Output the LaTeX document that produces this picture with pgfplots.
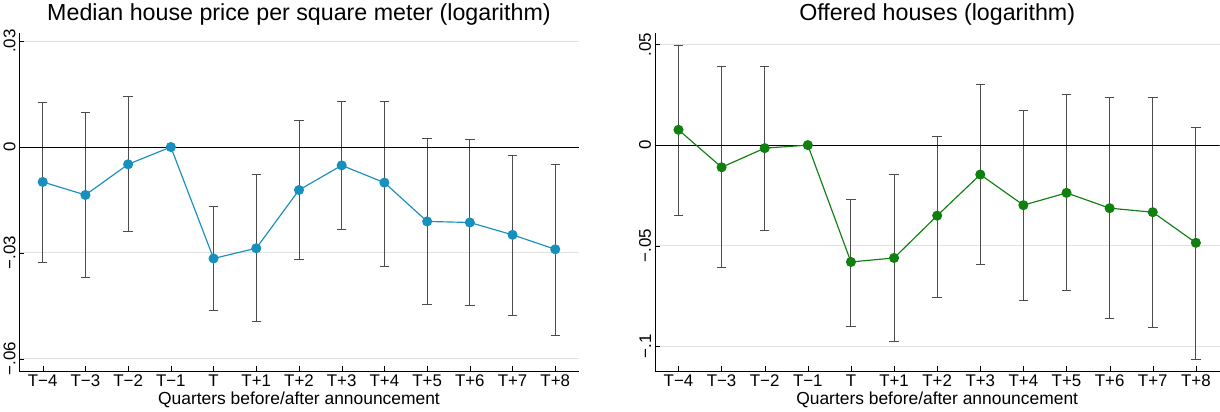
\documentclass[border=0pt]{standalone}
\usepackage{pgfplots}
\pgfplotsset{compat=1.18}
\usepackage{fontspec}
\setmainfont{Liberation Sans}
\definecolor{cblue}{RGB}{24,144,190}
\definecolor{cgreen}{RGB}{16,128,16}
\definecolor{gridc}{RGB}{225,225,225}
\begin{document}
\begin{tikzpicture}
\pgfplotsset{
  every axis/.append style={
    scale only axis, height=320pt,
    axis x line*=bottom, axis y line*=left,
    xtick={0,...,12}, xmin=-0.55, xmax=12.55,
    xticklabels={T−4,T−3,T−2,T−1,T,T+1,T+2,T+3,T+4,T+5,T+6,T+7,T+8},
    ymajorgrids, xmajorgrids=false, grid style={draw=gridc, line width=0.8pt},
    scaled y ticks=false,
    tick label style={font=\fontsize{16}{18}\selectfont},
    yticklabel style={rotate=90, anchor=south},
    xlabel={Quarters before/after announcement},
    label style={font=\fontsize{16.5}{19}\selectfont},
    xlabel style={yshift=2pt},
    title style={font=\fontsize{22}{25}\selectfont, yshift=-2pt},
    tick style={black}, major tick length=5pt,
    axis line style={black},
  },
  eb/.style={draw=none, mark=none, forget plot, error bars/.cd, y dir=both, y explicit,
    error bar style={black!70, line width=0.9pt}, error mark options={rotate=90, mark size=4.5pt, black!70, line width=0.9pt}},
}
\begin{axis}[width=530pt, ymin=-0.0635, ymax=0.0323,
  ytick={-0.06,-0.03,0,0.03}, yticklabels={−.06,−.03,0,.03},
  title={Median house price per square meter (logarithm)}]
\addplot[eb] coordinates {
(0,-0.0099) +=(0,0.0224) -=(0,0.0229)
(1,-0.0136) +=(0,0.0235) -=(0,0.0235)
(2,-0.0049) +=(0,0.0191) -=(0,0.0191)
(4,-0.0316) +=(0,0.0148) -=(0,0.0148)
(5,-0.0287) +=(0,0.0209) -=(0,0.0209)
(6,-0.0122) +=(0,0.0197) -=(0,0.0197)
(7,-0.0052) +=(0,0.0180) -=(0,0.0183)
(8,-0.0101) +=(0,0.0231) -=(0,0.0238)
(9,-0.0211) +=(0,0.0234) -=(0,0.0235)
(10,-0.0214) +=(0,0.0234) -=(0,0.0235)
(11,-0.0249) +=(0,0.0226) -=(0,0.0229)
(12,-0.0290) +=(0,0.0241) -=(0,0.0243)
};
\addplot[black, line width=0.9pt, forget plot] coordinates {(-0.55,0) (12.55,0)};
\addplot[cblue, line width=1.1pt, mark=*, mark size=4.2pt] coordinates {
(0,-0.0099)(1,-0.0136)(2,-0.0049)(3,0)(4,-0.0316)(5,-0.0287)(6,-0.0122)(7,-0.0052)(8,-0.0101)(9,-0.0211)(10,-0.0214)(11,-0.0249)(12,-0.0290)};
\end{axis}
\begin{axis}[at={(602pt,0)}, width=535pt, ymin=-0.1121, ymax=0.0556,
  ytick={-0.1,-0.05,0,0.05}, yticklabels={−.1,−.05,0,.05},
  title={Offered houses (logarithm)}]
\addplot[eb] coordinates {
(0,0.0076) +=(0,0.0419) -=(0,0.0424)
(1,-0.0110) +=(0,0.0499) -=(0,0.0496)
(2,-0.0015) +=(0,0.0404) -=(0,0.0409)
(4,-0.0580) +=(0,0.0312) -=(0,0.0319)
(5,-0.0560) +=(0,0.0414) -=(0,0.0415)
(6,-0.0350) +=(0,0.0395) -=(0,0.0408)
(7,-0.0146) +=(0,0.0449) -=(0,0.0445)
(8,-0.0298) +=(0,0.0470) -=(0,0.0475)
(9,-0.0237) +=(0,0.0490) -=(0,0.0485)
(10,-0.0313) +=(0,0.0550) -=(0,0.0546)
(11,-0.0333) +=(0,0.0570) -=(0,0.0571)
(12,-0.0485) +=(0,0.0571) -=(0,0.0581)
};
\addplot[black, line width=0.9pt, forget plot] coordinates {(-0.55,0) (12.55,0)};
\addplot[cgreen, line width=1.1pt, mark=*, mark size=4.2pt] coordinates {
(0,0.0076)(1,-0.0110)(2,-0.0015)(3,0)(4,-0.0580)(5,-0.0560)(6,-0.0350)(7,-0.0146)(8,-0.0298)(9,-0.0237)(10,-0.0313)(11,-0.0333)(12,-0.0485)};
\end{axis}
\end{tikzpicture}
\end{document}
